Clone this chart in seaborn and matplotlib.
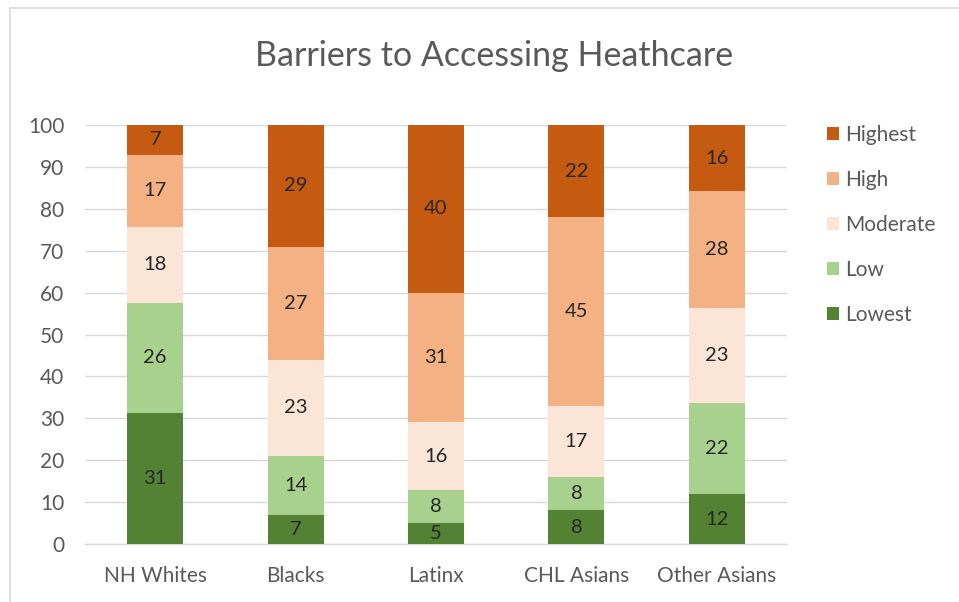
import numpy as np
import pandas as pd
import matplotlib
matplotlib.use("Agg")
import matplotlib.pyplot as plt
import seaborn as sns
from matplotlib.patches import Patch, Rectangle

categories = ["NH Whites", "Blacks", "Latinx", "CHL Asians", "Other Asians"]
levels = ["Lowest", "Low", "Moderate", "High", "Highest"]
lowest = [31, 7, 5, 8, 12]
low = [26, 14, 8, 8, 22]
moderate = [18, 23, 16, 17, 23]
high = [17, 27, 31, 45, 28]
highest = [7, 29, 40, 22, 16]
yticks = [0, 10, 20, 30, 40, 50, 60, 70, 80, 90, 100]

colors = {"Lowest": "#548235", "Low": "#A9D18E", "Moderate": "#FBE5D6",
          "High": "#F4B183", "Highest": "#C55A11"}

sns.set_theme(style="white")
plt.rcParams['font.family'] = ['Lato', 'DejaVu Sans']

raw = pd.DataFrame({"Lowest": lowest, "Low": low, "Moderate": moderate,
                    "High": high, "Highest": highest}, index=categories)
pct = raw.div(raw.sum(axis=1), axis=0) * 100
cum = pct.cumsum(axis=1)

fig = plt.figure(figsize=(9.59, 6.02), dpi=100)
ax = fig.add_axes([85/959, 1-544/602, (787-85)/959, (544-125)/602])

# draw cumulative bars from top level down so they stack visually
for lvl in reversed(levels):
    sns.barplot(x=categories, y=cum[lvl].values, color=colors[lvl],
                saturation=1, width=0.4, ax=ax, zorder=3, edgecolor="none")

# data labels
for i, cat in enumerate(categories):
    prev = 0
    for lvl in levels:
        top = cum.loc[cat, lvl]
        mid = (prev + top) / 2
        ax.text(i, mid, str(raw.loc[cat, lvl]), ha="center", va="center",
                fontsize=14.5, color="#262626", zorder=5)
        prev = top

ax.set_ylim(0, 100)
ax.set_xlim(-0.5, 4.5)
ax.set_yticks(yticks)
ax.set_yticklabels([str(t) for t in yticks])
ax.yaxis.grid(True, color="#D9D9D9", linewidth=1)
ax.set_axisbelow(True)
for s in ["top", "right", "left"]:
    ax.spines[s].set_visible(False)
ax.spines["bottom"].set_color("#D9D9D9")
ax.spines["bottom"].set_linewidth(1)
ax.tick_params(axis="y", length=0, pad=15, labelsize=15, labelcolor="#595959")
ax.tick_params(axis="x", length=0, pad=16, labelsize=15, labelcolor="#595959")
ax.set_xlabel("")
ax.set_ylabel("")

fig.text(494/959, 1-56/602, "Barriers to Accessing Heathcare", ha="center",
         va="center", fontsize=24.5, color="#595959")

handles = [Patch(facecolor=colors[l], edgecolor="none") for l in reversed(levels)]
leg = fig.legend(handles, list(reversed(levels)), loc="upper left",
                 bbox_to_anchor=(808/959, 1-106/602), frameon=False,
                 fontsize=15, labelspacing=1.2, handlelength=0.6,
                 handleheight=0.6, handletextpad=0.3)
for t in leg.get_texts():
    t.set_color("#595959")

# chart border
fig.add_artist(Rectangle((10/959, -0.01), 1.02, 1-8/602 + 0.01,
                         transform=fig.transFigure, fill=False,
                         edgecolor="#D9D9D9", linewidth=1.2))

fig.savefig("out.png", dpi=100)
